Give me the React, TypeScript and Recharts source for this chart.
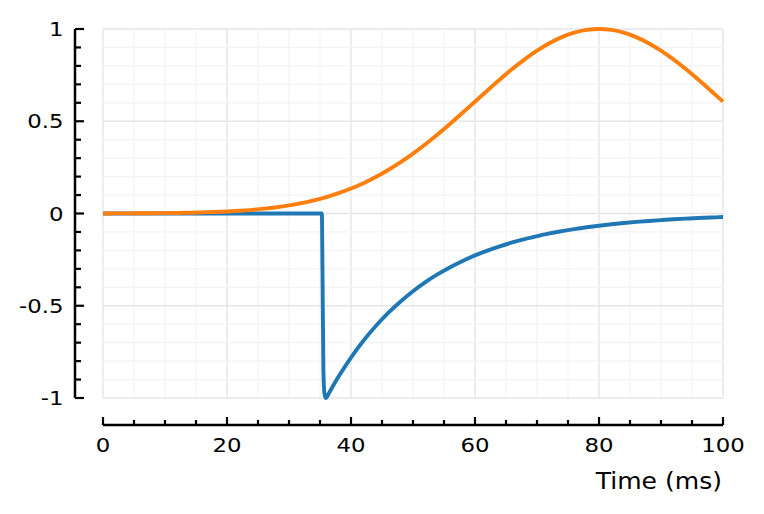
import React from 'react';
import { LineChart, Line, XAxis, YAxis, ReferenceLine } from 'recharts';

// Blue series (fast drop then exponential recovery)
const blueTimes = [0, 10, 20, 30, 35.3, 35.4, 35.55, 35.7, 35.9, 36.5, 37, 38, 40, 42, 44, 46, 48, 50, 52, 54, 56, 58, 60, 62, 64, 66, 68, 70, 72, 74, 76, 78, 80, 82, 84, 86, 88, 90, 92, 94, 96, 98, 100];
const blueValues = [0, 0, 0, 0, 0, -0.3, -0.85, -0.97, -1.0, -0.97, -0.94, -0.884, -0.781, -0.69, -0.61, -0.539, -0.477, -0.421, -0.372, -0.329, -0.291, -0.257, -0.227, -0.201, -0.178, -0.157, -0.139, -0.123, -0.108, -0.0957, -0.0846, -0.0748, -0.0661, -0.0585, -0.0517, -0.0457, -0.0404, -0.0357, -0.0315, -0.0279, -0.0246, -0.0218, -0.0192];

// Orange series (smooth bump peaking at 80 ms)
const orangeTimes = [0, 2, 4, 6, 8, 10, 12, 14, 16, 18, 20, 22, 24, 26, 28, 30, 32, 34, 36, 38, 40, 42, 44, 46, 48, 50, 52, 54, 56, 58, 60, 62, 64, 66, 68, 70, 72, 74, 76, 78, 80, 82, 84, 86, 88, 90, 92, 94, 96, 98, 100];
const orangeValues = [0.0003, 0.0005, 0.0007, 0.0011, 0.0015, 0.0022, 0.0031, 0.0043, 0.006, 0.0082, 0.0111, 0.0149, 0.0198, 0.0261, 0.034, 0.0439, 0.0561, 0.071, 0.0889, 0.1103, 0.1353, 0.1645, 0.1979, 0.2357, 0.278, 0.3247, 0.3753, 0.4296, 0.4868, 0.5461, 0.6065, 0.667, 0.7261, 0.7827, 0.8353, 0.8825, 0.9231, 0.956, 0.9802, 0.995, 1.0, 0.995, 0.9802, 0.956, 0.9231, 0.8825, 0.8353, 0.7827, 0.7261, 0.667, 0.6065];

// Ticks / grid
const xMinorTicks = [0, 5, 10, 15, 20, 25, 30, 35, 40, 45, 50, 55, 60, 65, 70, 75, 80, 85, 90, 95, 100];
const xMajorTicks = [0, 20, 40, 60, 80, 100];
const xTickLabels = ['0', '20', '40', '60', '80', '100'];
const yMinorTicks = [-1, -0.9, -0.8, -0.7, -0.6, -0.5, -0.4, -0.3, -0.2, -0.1, 0, 0.1, 0.2, 0.3, 0.4, 0.5, 0.6, 0.7, 0.8, 0.9, 1];
const yMajorTicks = [-1, -0.5, 0, 0.5, 1];
const yTickLabels = ['-1', '-0.5', '0', '0.5', '1'];
const xTitle = 'Time (ms)';

const blueData = blueTimes.map((t, i) => ({ t, v: blueValues[i] }));
const orangeData = orangeTimes.map((t, i) => ({ t, v: orangeValues[i] }));

const FONT = 'DejaVu Sans';
const TICK_FS = 19.5;
const STRETCH = 1.17;

const isMajor = (arr: number[], v: number) => arr.some((m) => Math.abs(m - v) < 1e-9);

const XTick = (props: any) => {
  const { x, y, payload } = props;
  const v = payload.value;
  const major = isMajor(xMajorTicks, v);
  const idx = xMajorTicks.findIndex((m) => Math.abs(m - v) < 1e-9);
  return (
    <g>
      <line x1={x} y1={y} x2={x} y2={y - (major ? 8 : 5)} stroke="#000" strokeWidth={2.2} />
      {major && (
        <text
          transform={`translate(${x},${y + 26.7}) scale(${STRETCH},1)`}
          textAnchor="middle"
          fontFamily={FONT}
          fontSize={TICK_FS}
          fill="#000"
        >
          {xTickLabels[idx]}
        </text>
      )}
    </g>
  );
};

const YTick = (props: any) => {
  const { x, y, payload } = props;
  const v = payload.value;
  const major = isMajor(yMajorTicks, v);
  const idx = yMajorTicks.findIndex((m) => Math.abs(m - v) < 1e-9);
  return (
    <g>
      <line x1={x} y1={y} x2={x + (major ? 9 : 6)} y2={y} stroke="#000" strokeWidth={2.2} />
      {major && (
        <text
          transform={`translate(${x - 11.5},${y + 7.2}) scale(${STRETCH},1)`}
          textAnchor="end"
          fontFamily={FONT}
          fontSize={TICK_FS}
          fill="#000"
        >
          {yTickLabels[idx]}
        </text>
      )}
    </g>
  );
};

const XTitle = (props: any) => {
  const vb = props.viewBox || {};
  const x = (vb.x ?? 0) + (vb.width ?? 0) - 1;
  const y = (vb.y ?? 0) + 64;
  return (
    <text
      transform={`translate(${x},${y}) scale(1.09,1)`}
      textAnchor="end"
      fontFamily={FONT}
      fontSize={23}
      fill="#000"
    >
      {xTitle}
    </text>
  );
};

export default function App() {
  return (
    <div style={{ position: 'absolute', left: 0, top: 0, width: 764, height: 514, background: '#fff' }}>
      <LineChart width={764} height={514} margin={{ top: 29, right: 41, bottom: 9, left: 15 }}>
        <XAxis
          xAxisId="inner"
          dataKey="t"
          type="number"
          domain={[0, 100]}
          ticks={xMinorTicks}
          tick={false}
          axisLine={false}
          tickLine={false}
          height={27}
        />
        <XAxis
          xAxisId="outer"
          dataKey="t"
          type="number"
          domain={[0, 100]}
          allowDataOverflow
          ticks={xMinorTicks}
          interval={0}
          tick={<XTick />}
          tickLine={false}
          tickSize={0}
          tickMargin={0}
          axisLine={{ stroke: '#000', strokeWidth: 2.5 }}
          height={80}
          label={<XTitle />}
        />
        <YAxis
          yAxisId="inner"
          type="number"
          domain={[-1, 1]}
          ticks={yMinorTicks}
          tick={false}
          axisLine={false}
          tickLine={false}
          width={28}
        />
        <YAxis
          yAxisId="outer"
          type="number"
          domain={[-1, 1]}
          allowDataOverflow
          ticks={yMinorTicks}
          interval={0}
          tick={<YTick />}
          tickLine={false}
          tickSize={0}
          tickMargin={0}
          axisLine={{ stroke: '#000', strokeWidth: 2.5 }}
          width={60}
        />
        {xMinorTicks.map((v) => (
          <ReferenceLine
            key={'xm' + v}
            x={v}
            xAxisId="inner"
            yAxisId="inner"
            stroke={isMajor(xMajorTicks, v) ? '#e6e6e6' : '#f3f3f3'}
            strokeWidth={isMajor(xMajorTicks, v) ? 1.4 : 1.2}
          />
        ))}
        {yMinorTicks.map((v) => (
          <ReferenceLine
            key={'ym' + v}
            y={v}
            xAxisId="inner"
            yAxisId="inner"
            stroke={isMajor(yMajorTicks, v) ? '#e6e6e6' : '#f3f3f3'}
            strokeWidth={isMajor(yMajorTicks, v) ? 1.4 : 1.2}
          />
        ))}
        <Line
          data={blueData}
          dataKey="v"
          xAxisId="inner"
          yAxisId="inner"
          type="monotone"
          stroke="#1f77b4"
          strokeWidth={3.9}
          dot={false}
          activeDot={false}
          isAnimationActive={false}
        />
        <Line
          data={orangeData}
          dataKey="v"
          xAxisId="inner"
          yAxisId="inner"
          type="natural"
          stroke="#ff7f0e"
          strokeWidth={3.9}
          dot={false}
          activeDot={false}
          isAnimationActive={false}
        />
      </LineChart>
    </div>
  );
}
